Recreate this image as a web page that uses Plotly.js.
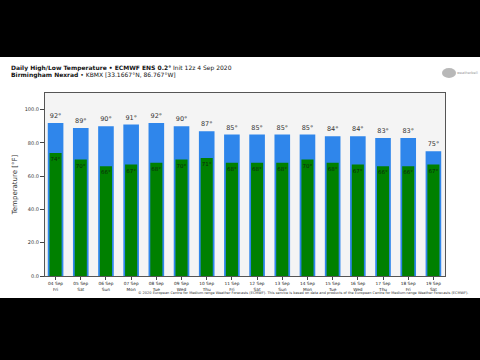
<!DOCTYPE html>
<html>
<head>
<meta charset="utf-8">
<script src="https://cdn.plot.ly/plotly-3.0.1.min.js"></script>
<style>
html,body{margin:0;padding:0;background:#000;width:480px;height:360px;overflow:hidden;}
#chart{position:absolute;left:0;top:57px;width:480px;height:241px;}
</style>
</head>
<body>
<div id="chart"></div>
<script>
const dates = ["04 Sep","05 Sep","06 Sep","07 Sep","08 Sep","09 Sep","10 Sep","11 Sep","12 Sep","13 Sep","14 Sep","15 Sep","16 Sep","17 Sep","18 Sep","19 Sep"];
const weekdays = ["Fri","Sat","Sun","Mon","Tue","Wed","Thu","Fri","Sat","Sun","Mon","Tue","Wed","Thu","Fri","Sat"];
const highs = [92,89,90,91,92,90,87,85,85,85,85,84,84,83,83,75];
const lows = [74,70,66,67,68,70,71,68,68,68,70,68,67,66,66,67];

const W = 480, H = 241, ML = 45, MR = 35, MT = 36, MB = 22;
const PW = W - ML - MR, PH = H - MT - MB;
const px = x => (x - ML) / PW;
const py = y => (H - MB - y) / PH;

const idx = dates.map((d, i) => i);
const ticktext = dates.map((d, i) => d + "<br>" + weekdays[i]);

const font = "DejaVu Sans, Liberation Sans, sans-serif";

const traces = [
  {
    type: "bar", x: idx, y: highs, width: 0.62,
    marker: {color: "#2f86eb", line: {width: 0}},
    text: highs.map(v => v + "°"), textposition: "outside",
    textfont: {family: font, size: 6.5, color: "#333"},
    constraintext: "none", cliponaxis: false, hoverinfo: "none"
  },
  {
    type: "bar", x: idx, y: lows, width: 0.48,
    marker: {color: "#008000", line: {width: 0}},
    text: lows.map(v => v + "°"), textposition: "inside", insidetextanchor: "end",
    textangle: 0,
    textfont: {family: font, size: 5.5, color: "#0b2a0b"},
    constraintext: "none", hoverinfo: "none"
  }
];

const layout = {
  width: W, height: H,
  margin: {l: ML, r: MR, t: MT, b: MB, pad: 0},
  paper_bgcolor: "#ffffff", plot_bgcolor: "#f4f4f4",
  barmode: "overlay", showlegend: false,
  font: {family: font, color: "#333"},
  xaxis: {
    range: [-0.42, 15.46], tickmode: "array", tickvals: idx, ticktext: ticktext,
    ticks: "outside", ticklen: 3, tickcolor: "#444", tickfont: {size: 4.3, color: "#222"},
    showgrid: false, zeroline: false, showline: true, linecolor: "#555", linewidth: 1, mirror: true
  },
  yaxis: {
    range: [0, 110], tickmode: "array", tickvals: [0,20,40,60,80,100],
    ticktext: ["0.0","20.0","40.0","60.0","80.0","100.0"],
    ticks: "outside", ticklen: 4, tickcolor: "#444", tickfont: {size: 5, color: "#333"},
    showgrid: false, zeroline: false, showline: true, linecolor: "#555", linewidth: 1, mirror: true,
    title: {text: "Temperature [°F]", font: {size: 7, color: "#333"}, standoff: 6}
  },
  annotations: [
    {xref: "paper", yref: "paper", x: px(9), y: py(11), xanchor: "left", yanchor: "middle", showarrow: false,
     text: "<b>Daily High/Low Temperature • ECMWF ENS 0.2°</b> Init 12z 4 Sep 2020",
     font: {size: 6, color: "#111", family: font}},
    {xref: "paper", yref: "paper", x: px(9), y: py(17.5), xanchor: "left", yanchor: "middle", showarrow: false,
     text: "<b>Birmingham Nexrad</b> • KBMX [33.1667°N, 86.767°W]",
     font: {size: 6, color: "#111", family: font}},
    {xref: "paper", yref: "paper", x: px(470), y: py(235.5), xanchor: "right", yanchor: "middle", showarrow: false,
     text: "© 2020 European Centre for Medium-range Weather Forecasts (ECMWF). This service is based on data and products of the European Centre for Medium-range Weather Forecasts (ECMWF).",
     font: {size: 3.5, color: "#333", family: font}},
    {xref: "paper", yref: "paper", x: px(455), y: py(16), xanchor: "left", yanchor: "middle", showarrow: false,
     text: "weatherbell", font: {size: 3.5, color: "#999", family: font}}
  ],
  shapes: [
    {type: "circle", xref: "paper", yref: "paper", x0: px(442), x1: px(456), y0: py(21), y1: py(11),
     fillcolor: "#9a9a9a", line: {width: 0}, opacity: 0.7}
  ]
};

Plotly.newPlot("chart", traces, layout, {staticPlot: true, displayModeBar: false});
</script>
</body>
</html>
